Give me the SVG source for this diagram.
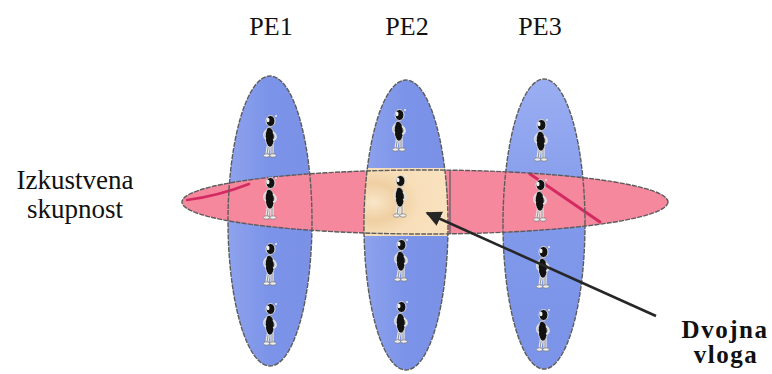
<svg xmlns="http://www.w3.org/2000/svg" width="772" height="374" viewBox="0 0 772 374">
  <style>
    .outline { fill: none; stroke: #5c5c5c; stroke-width: 1.4; stroke-dasharray: 5 1.2; }
    .pe { stroke: none; }
    .streak { fill: none; stroke: #d42a62; stroke-linecap: round; }
    .conn { fill: none; stroke: #262626; stroke-width: 2.6; }
  </style>
  <defs>
    <linearGradient id="blue" x1="0" y1="0" x2="1" y2="0">
      <stop offset="0" stop-color="#8ea3ee"/>
      <stop offset="0.5" stop-color="#7b93e8"/>
      <stop offset="1" stop-color="#7a91e6"/>
    </linearGradient>
    <linearGradient id="blue3" x1="0" y1="0" x2="0" y2="1">
      <stop offset="0" stop-color="#9aaef2"/>
      <stop offset="0.5" stop-color="#8199ea"/>
      <stop offset="1" stop-color="#7b93e8"/>
    </linearGradient>
    <radialGradient id="peach" cx="0.15" cy="0.5" r="0.9">
      <stop offset="0" stop-color="#f9e6c9"/>
      <stop offset="0.3" stop-color="#efcfa2"/>
      <stop offset="0.55" stop-color="#f8dfba"/>
      <stop offset="1" stop-color="#fae2bf"/>
    </radialGradient>
    <clipPath id="pe2clip">
      <ellipse cx="406" cy="225" rx="42" ry="145"/>
    </clipPath>
    <marker id="arrow" viewBox="0 0 10 10" refX="9" refY="5" markerWidth="6" markerHeight="6" orient="auto" markerUnits="strokeWidth">
      <path d="M0,0 L10,5 L0,10 z" fill="#262626"/>
    </marker>
    <!-- small standing person -->
    <symbol id="person" viewBox="-9 -24 18 48" width="18" height="48">
      <path d="M-1,6 L-3,18 M2,6 L2,18" stroke="#ececec" stroke-width="3.2" fill="none"/>
      <path d="M-1,6 L-3,18 M2,6 L2,18" stroke="#777" stroke-width="0.8" fill="none"/>
      <ellipse cx="-3.5" cy="19.5" rx="3.2" ry="1.7" fill="#eee" stroke="#666" stroke-width="0.6"/>
      <ellipse cx="3" cy="19.5" rx="3.2" ry="1.7" fill="#eee" stroke="#666" stroke-width="0.6"/>
      <path d="M-3,-8 C-6,-1 -5,8 -1,11 C3,12 5,5 4,-2 C3,-7 0,-10 -3,-8 z" fill="#111" stroke="#ddd" stroke-width="0.9"/>
      <path d="M3,-4 C7,-1 7,3 3,4" fill="none" stroke="#e0e0e0" stroke-width="1.8"/>
      <path d="M-4,-6 C-7,-2 -7,1 -4,3" fill="none" stroke="#e0e0e0" stroke-width="1.5"/>
      <ellipse cx="0.5" cy="-15" rx="4.5" ry="5.5" fill="#111" stroke="#ddd" stroke-width="1"/>
      <ellipse cx="-2" cy="-16" rx="1.5" ry="2.2" fill="#f0f0f0"/>
      <circle cx="6" cy="-20" r="1" fill="#eee"/>
    </symbol>
  </defs>

  <rect width="772" height="374" fill="#ffffff"/>

  <!-- column fills -->
  <g id="pe1-fill"><ellipse class="pe" cx="270" cy="221" rx="42" ry="145" fill="url(#blue)"/></g>
  <g id="pe2-fill"><ellipse class="pe" cx="406" cy="225" rx="42" ry="145" fill="url(#blue)"/></g>
  <g id="pe3-fill"><ellipse class="pe" cx="544" cy="224" rx="41" ry="145" fill="url(#blue3)"/></g>

  <!-- community band -->
  <g id="community">
    <ellipse cx="425" cy="202" rx="243" ry="32" fill="#f6889e"/>
    <g clip-path="url(#pe2clip)">
      <rect x="360" y="168" width="92" height="68" fill="url(#peach)"/>
    </g>
    <path class="streak" d="M187,200 Q218,196 249,184" stroke-width="2.6"/>
    <path class="streak" d="M530,174 L600,222" stroke-width="3"/>
    <ellipse class="outline" cx="425" cy="202" rx="243" ry="32"/>
  </g>

  <!-- columns with their members -->
  <g id="pe1">
    <ellipse class="outline" cx="270" cy="221" rx="42" ry="145"/>
    <use href="#person" x="261" y="112"/>
    <use href="#person" x="261" y="174"/>
    <use href="#person" x="261" y="240"/>
    <use href="#person" x="261" y="300"/>
  </g>
  <g id="pe2">
    <ellipse class="outline" cx="406" cy="225" rx="42" ry="145"/>
    <line x1="450" y1="171" x2="450" y2="234" stroke="#5c5c5c" stroke-width="1.2"/>
    <use href="#person" x="390" y="106"/>
    <use href="#person" x="391" y="172"/>
    <use href="#person" x="392" y="236"/>
    <use href="#person" x="392" y="298"/>
  </g>
  <g id="pe3">
    <ellipse class="outline" cx="544" cy="224" rx="41" ry="145"/>
    <use href="#person" x="532" y="116"/>
    <use href="#person" x="531" y="176"/>
    <use href="#person" x="534" y="243"/>
    <use href="#person" x="534" y="306"/>
  </g>

  <!-- connector -->
  <g id="connectors">
    <line class="conn" x1="656" y1="316" x2="427" y2="213" marker-end="url(#arrow)"/>
  </g>

  <!-- labels -->
  <g id="labels" font-family="Liberation Serif, Times New Roman, serif" font-size="26" fill="#111" text-anchor="middle">
    <text x="271" y="35">PE1</text>
    <text x="407" y="35">PE2</text>
    <text x="540" y="35">PE3</text>
    <text x="75" y="189" font-size="27">Izkustvena</text>
    <text x="75" y="218" font-size="27">skupnost</text>
    <text x="725" y="338" font-size="25" font-weight="bold" letter-spacing="1.5">Dvojna</text>
    <text x="726" y="363" font-size="25" font-weight="bold" letter-spacing="1.5">vloga</text>
  </g>
</svg>
